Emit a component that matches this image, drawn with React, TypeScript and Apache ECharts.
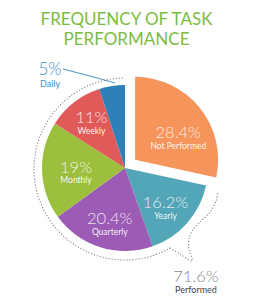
import React, { useEffect, useRef } from "react";
import * as echarts from "echarts";

const categories = ["Not Performed", "Yearly", "Quarterly", "Monthly", "Weekly", "Daily"];
const values = [28.4, 16.2, 20.4, 19, 11, 5];
const colors = ["#F5945B", "#52A6B8", "#9C5CB5", "#9CBF3E", "#E05A5A", "#2F80B6"];
const titleText = "FREQUENCY OF TASK\nPERFORMANCE";
const performedName = "Performed";

// layout constants (not data)
const CX = 125;
const CY = 168;
const R = 83;
const labelShift: Record<number, [number, number]> = {
  0: [-2, 14],
  1: [-3, 1],
  2: [2, 0],
  3: [9, 2],
  4: [2, 0],
};

export default function App() {
  const ref = useRef<HTMLDivElement>(null);
  useEffect(() => {
    if (!ref.current) return;
    const chart = echarts.init(ref.current, null, { renderer: "svg" });
    const dailyIdx = categories.indexOf("Daily");
    const notIdx = categories.indexOf("Not Performed");
    const performed = values
      .filter((_, i) => i !== notIdx)
      .reduce((a, b) => a + b, 0)
      .toFixed(1);
    const fmtPct = (v: number) => `${v}%`;

    const mainData = categories.map((name, i) => ({
      name,
      value: values[i],
      selected: i === notIdx,
      itemStyle: { color: colors[i] },
      label:
        i === dailyIdx
          ? {
              show: true,
              position: "outside",
              formatter: (p: any) => `{p|${fmtPct(p.value)}}\n{n|${p.name}}`,
              rich: {
                p: { fontFamily: "Lato", fontWeight: 300, fontSize: 17, color: "#3F8FC7", lineHeight: 18, align: "center" },
                n: { fontFamily: "Lato", fontSize: 9, color: "#3F8FC7", lineHeight: 11, align: "center" },
              },
            }
          : { show: false },
      labelLine: i === dailyIdx ? { show: true, lineStyle: { color: "#4A93C6", width: 1 } } : { show: false },
    }));

    const labelData = categories.map((name, i) => ({
      name,
      value: values[i],
      selected: i === notIdx,
      label: { show: i !== dailyIdx },
    }));

    chart.setOption({
      animation: false,
      title: {
        text: titleText,
        left: "center",
        top: 3,
        textStyle: {
          color: "#7DBB44",
          fontFamily: "Lato",
          fontWeight: "normal",
          fontSize: 17,
          lineHeight: 20,
        },
      },
      series: [
        {
          type: "pie",
          center: [CX, CY],
          radius: [0, R],
          startAngle: 90,
          selectedMode: "single",
          selectedOffset: 13,
          silent: true,
          data: mainData,
          labelLayout: (params: any) => {
            if (params.dataIndex === dailyIdx) {
              return {
                x: 50,
                y: 74,
                align: "center",
                verticalAlign: "middle",
                labelLinePoints: [
                  [115, 83],
                  [90, 76],
                  [63, 69],
                ],
              };
            }
            return {};
          },
        },
        {
          type: "pie",
          center: [CX, CY],
          radius: [0, 110],
          startAngle: 90,
          selectedMode: "single",
          selectedOffset: 13,
          silent: true,
          itemStyle: { color: "rgba(0,0,0,0)" },
          label: {
            position: "inside",
            formatter: (p: any) => `{p|${fmtPct(p.value)}}\n{n|${p.name}}`,
            rich: {
              p: { fontFamily: "Lato", fontWeight: 300, fontSize: 16.5, color: "rgba(255,255,255,0.85)", lineHeight: 17, align: "center" },
              n: { fontFamily: "Lato", fontSize: 8.5, color: "rgba(255,255,255,0.92)", lineHeight: 10, align: "center" },
            },
          },
          labelLine: { show: false },
          data: labelData,
          labelLayout: (params: any) => {
            const s = labelShift[params.dataIndex];
            if (s) return { dx: s[0], dy: s[1] };
            return {};
          },
        },
      ],
      graphic: [
        {
          type: "arc",
          silent: true,
          shape: { cx: CX, cy: CY + 1, r: 91, startAngle: Math.PI / 3, endAngle: (3 * Math.PI) / 2, clockwise: true },
          style: { stroke: "#8f8f8f", fill: "none", lineWidth: 1.2, lineDash: [1.2, 1.8] },
        },
        {
          type: "polyline",
          silent: true,
          shape: {
            points: [
              [170, 248],
              [180, 254],
              [192, 261],
              [189, 249],
              [189, 238],
              [193, 230],
              [200, 222],
              [210, 212],
              [216, 201],
              [218, 192],
            ],
            smooth: 0.3,
          },
          style: { stroke: "#8f8f8f", fill: "none", lineWidth: 1.2, lineDash: [1.2, 1.8] },
        },
        {
          type: "text",
          silent: true,
          x: 196,
          y: 281,
          style: {
            text: `{p|${performed}%}\n{n|${performedName}}`,
            align: "center",
            verticalAlign: "middle",
            rich: {
              p: { fontFamily: "Lato", fontWeight: 300, fontSize: 16.5, fill: "#8a8a8a", lineHeight: 17.5, align: "center" },
              n: { fontFamily: "Lato", fontSize: 9, fill: "#444444", lineHeight: 10.5, align: "center" },
            },
          },
        },
      ],
    });
    return () => chart.dispose();
  }, []);
  return (
    <div
      ref={ref}
      style={{ position: "fixed", left: 0, top: 0, width: 253, height: 300, background: "#fff" }}
    />
  );
}
